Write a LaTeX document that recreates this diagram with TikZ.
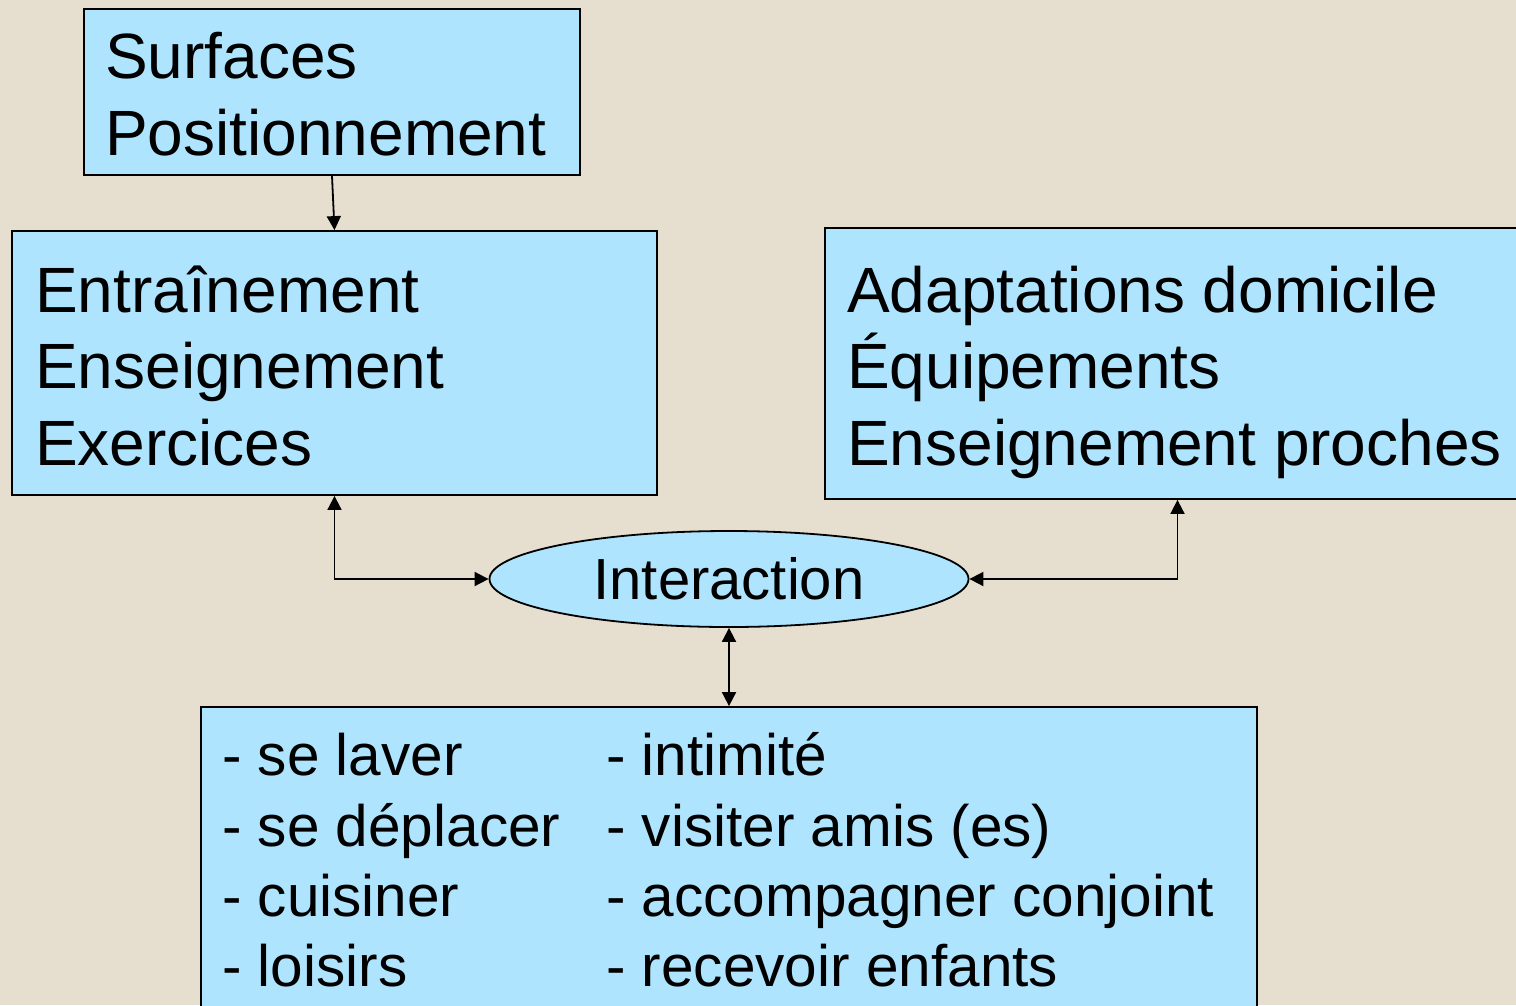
\documentclass[tikz,border=0pt]{standalone}
\usepackage{fontspec}
\setmainfont{Liberation Sans}
\usetikzlibrary{shapes.geometric,arrows.meta}
\definecolor{bgcol}{HTML}{E6DFCF}
\definecolor{boxcol}{HTML}{AEE4FD}
\tikzset{
  panel/.style={draw=black, line width=1.8pt, fill=boxcol, inner sep=0pt},
  big/.style={anchor=base west, inner sep=0pt, font=\fontsize{64}{77}\selectfont},
  small/.style={anchor=base west, inner sep=0pt, font=\fontsize{58.5}{70}\selectfont},
  tip/.tip={Triangle[length=14pt,width=14pt]},
  link/.style={line width=1.8pt, tip-tip},
  onelink/.style={line width=1.8pt, -tip}
}
\begin{document}
\begin{tikzpicture}[x=1pt,y=-1pt]
\useasboundingbox (0,0) rectangle (1516,1005);
\fill[bgcol] (0,0) rectangle (1516,1005);

% boxes
\node[panel, minimum width=496pt, minimum height=166pt] (b1) at (332,92) {};
\node[panel, minimum width=645pt, minimum height=264pt] (b2) at (334.5,363) {};
\node[panel, minimum width=705pt, minimum height=271pt] (b3) at (1177.5,363.5) {};
\node[panel, minimum width=1056pt, minimum height=320pt] (b4) at (729,867) {};
\node[draw=black, line width=1.8pt, fill=boxcol, ellipse, inner sep=0pt,
      minimum width=479pt, minimum height=96pt,
      font=\fontsize{58}{70}\selectfont] (ell) at (729,579) {Interaction};

% box texts
\node[big] (t1a) at (105,78) {Surfaces};
\node[big] (t1b) at (105,155) {Positionnement};

\node[big] (t2a) at (35,312) {Entraînement};
\node[big] (t2b) at (35,388) {Enseignement};
\node[big] (t2c) at (35,465) {Exercices};

\node[big] (t3a) at (847,312) {Adaptations domicile};
\node[big] (t3b) at (847,388) {Équipements};
\node[big] (t3c) at (847,465) {Enseignement proches};

\node[small] (l1) at (222,775) {- se laver};
\node[small] (l2) at (222,846) {- se déplacer};
\node[small] (l3) at (222,916) {- cuisiner};
\node[small] (l4) at (222,986) {- loisirs};
\node[small] (r1) at (606,775) {- intimité};
\node[small] (r2) at (606,846) {- visiter amis (es)};
\node[small] (r3) at (606,916) {- accompagner conjoint};
\node[small] (r4) at (606,986) {- recevoir enfants};

% connectors
\draw[onelink] (b1.south) -- (b2.north);
\draw[link] (b2.south) |- (ell.west);
\draw[link] (b3.south) |- (ell.east);
\draw[link] (ell.south) -- (b4.north);
\end{tikzpicture}
\end{document}
